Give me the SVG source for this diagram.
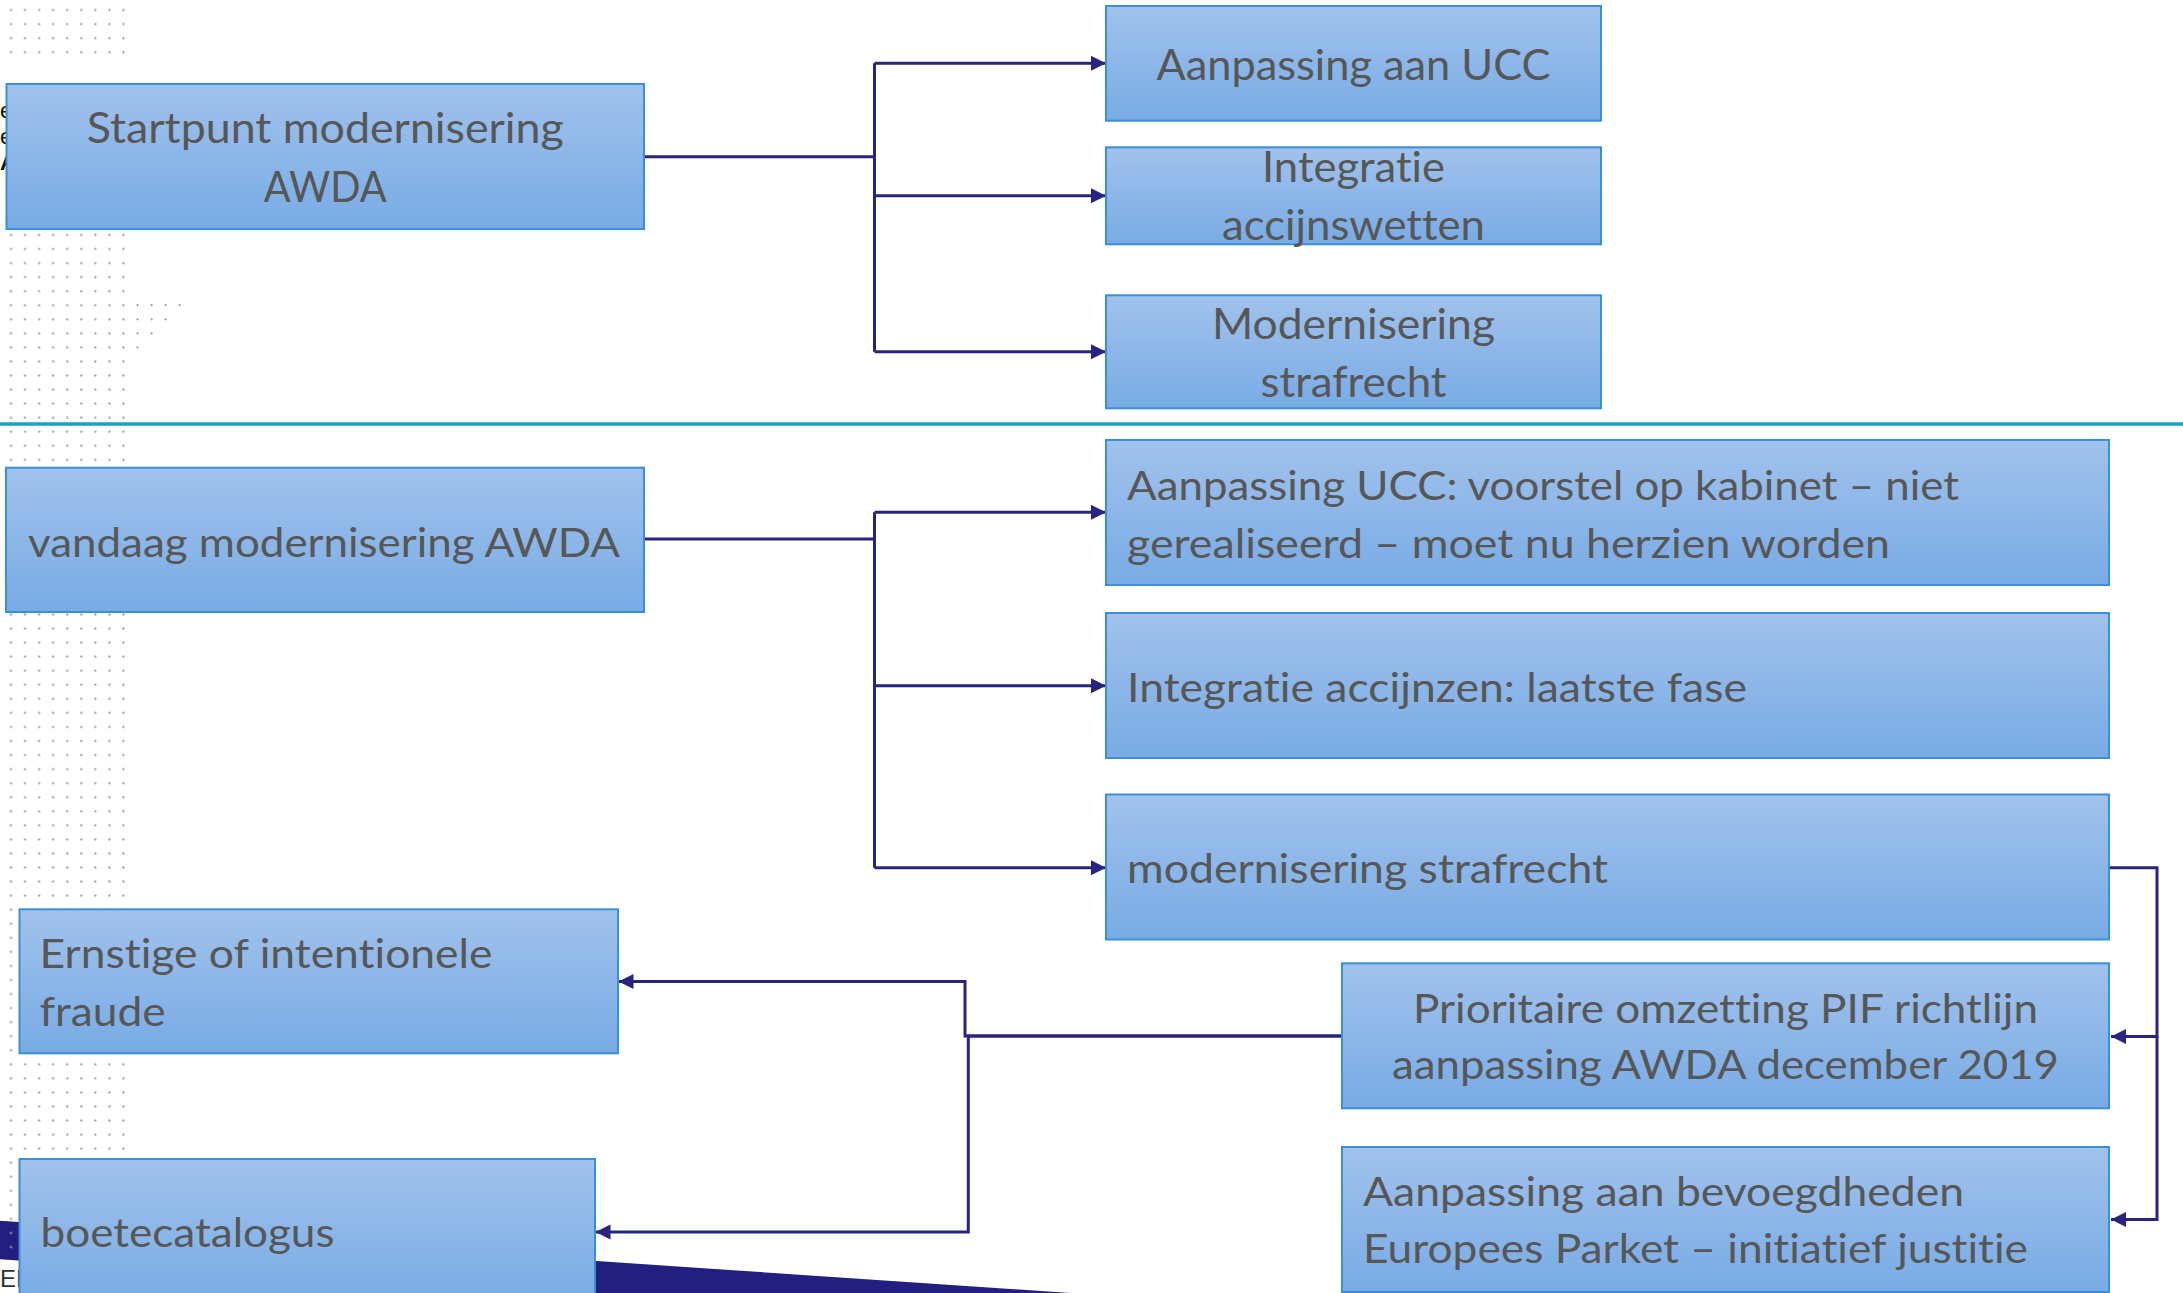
<svg xmlns="http://www.w3.org/2000/svg" width="2183" height="1293" viewBox="0 0 2183 1293">
  <style>
    .box { fill: url(#boxFill); stroke: #3a8fd9; stroke-width: 2; }
    .lbl { font-family: Lato, "Open Sans", "Liberation Sans", sans-serif; fill: #575757; font-variant-ligatures: none; font-feature-settings: "liga" 0; }
    .top { font-size: 42px; }
    .low { font-size: 41px; }
    .mid { text-anchor: middle; }
    .conn { fill: none; stroke: #28247f; stroke-width: 3; }
    .dot { fill: #9c9c9c; }
    .frag { font-family: "Liberation Sans", Arial, sans-serif; font-size: 22px; fill: #111; }
  </style>
  <defs>
    <linearGradient id="boxFill" x1="0" y1="0" x2="0" y2="1">
      <stop offset="0" stop-color="#a1c2ec"/>
      <stop offset="1" stop-color="#78abe5"/>
    </linearGradient>
    <pattern id="dots" patternUnits="userSpaceOnUse" x="4" y="3" width="14.05" height="14.057">
      <circle cx="7" cy="7" r="1.1" class="dot"/>
    </pattern>
    <marker id="arr" markerUnits="userSpaceOnUse" markerWidth="16" markerHeight="16" refX="15" refY="7.5" orient="auto">
      <path d="M0,0 L15,7.5 L0,15 Z" fill="#28247f"/>
    </marker>
  </defs>

  <rect width="2183" height="1293" fill="#ffffff"/>

  <!-- background decoration -->
  <g id="background">
    <polygon points="0,1220.7 1070,1293 498,1293 0,1259.3" fill="#231f80"/>
    <text x="0" y="1287" font-family="Liberation Sans, Arial, sans-serif" font-size="24" fill="#333">EL</text>
    <text class="frag" x="0" y="118">e</text>
    <text class="frag" x="0" y="144">er</text>
    <text class="frag" x="0" y="170" font-weight="bold">A</text>
    <rect x="4" y="3" width="126.45" height="56.23" fill="url(#dots)"/>
    <rect x="4" y="87.3" width="126.45" height="1166.7" fill="url(#dots)"/>
    <g class="dot">
      <circle cx="137.5" cy="305.2" r="1.1"/><circle cx="151.6" cy="305.2" r="1.1"/><circle cx="165.6" cy="305.2" r="1.1"/><circle cx="179.7" cy="305.2" r="1.1"/>
      <circle cx="137.5" cy="319.3" r="1.1"/><circle cx="151.6" cy="319.3" r="1.1"/><circle cx="165.6" cy="319.3" r="1.1"/>
      <circle cx="137.5" cy="333.3" r="1.1"/><circle cx="151.6" cy="333.3" r="1.1"/>
      <circle cx="137.5" cy="347.4" r="1.1"/>
    </g>
    <line x1="0" y1="424" x2="2183" y2="424" stroke="#17a3c8" stroke-width="3.5"/>
  </g>

  <!-- connectors -->
  <g id="connectors">
    <path class="conn" d="M644,156.7 H874.5"/>
    <path class="conn" d="M874.5,63.3 V351.7"/>
    <path class="conn" d="M874.5,63.3 H1106" marker-end="url(#arr)"/>
    <path class="conn" d="M874.5,195.7 H1106" marker-end="url(#arr)"/>
    <path class="conn" d="M874.5,351.7 H1106" marker-end="url(#arr)"/>

    <path class="conn" d="M644,539 H874.5"/>
    <path class="conn" d="M874.5,512.3 V867.7"/>
    <path class="conn" d="M874.5,512.3 H1106" marker-end="url(#arr)"/>
    <path class="conn" d="M874.5,685.8 H1106" marker-end="url(#arr)"/>
    <path class="conn" d="M874.5,867.7 H1106" marker-end="url(#arr)"/>

    <path class="conn" d="M2109,867.7 H2157 V1036.5 H2111" marker-end="url(#arr)"/>
    <path class="conn" d="M2157,1036.5 V1219.5 H2111" marker-end="url(#arr)"/>

    <path class="conn" d="M1342,1036 H965 V981.5 H618.5" marker-end="url(#arr)"/>
    <path class="conn" d="M1342,1036 H968.3 V1232 H595.5" marker-end="url(#arr)"/>
  </g>

  <!-- nodes -->
  <g id="startpunt">
    <rect class="box" x="6.5" y="84" width="637.5" height="145"/>
    <text class="lbl top mid" x="325.3" y="143.3" textLength="477" lengthAdjust="spacingAndGlyphs">Startpunt modernisering</text>
    <text class="lbl top mid" x="325.3" y="201.7" textLength="123" lengthAdjust="spacingAndGlyphs">AWDA</text>
  </g>
  <g id="aanpassing-ucc">
    <rect class="box" x="1106" y="6" width="495" height="114.7"/>
    <text class="lbl top mid" x="1353.5" y="80" textLength="394" lengthAdjust="spacingAndGlyphs">Aanpassing aan UCC</text>
  </g>
  <g id="integratie-accijnswetten">
    <rect class="box" x="1106" y="147.3" width="495" height="97"/>
    <text class="lbl top mid" x="1353.5" y="181.7" textLength="183" lengthAdjust="spacingAndGlyphs">Integratie</text>
    <text class="lbl top mid" x="1353.5" y="240" textLength="263" lengthAdjust="spacingAndGlyphs">accijnswetten</text>
  </g>
  <g id="modernisering-strafrecht-top">
    <rect class="box" x="1106" y="295.3" width="495" height="113"/>
    <text class="lbl top mid" x="1353.5" y="339.3" textLength="283" lengthAdjust="spacingAndGlyphs">Modernisering</text>
    <text class="lbl top mid" x="1353.5" y="396.7" textLength="186" lengthAdjust="spacingAndGlyphs">strafrecht</text>
  </g>
  <g id="vandaag">
    <rect class="box" x="6" y="467.7" width="638" height="144.3"/>
    <text class="lbl low" x="28" y="556.7" textLength="592" lengthAdjust="spacingAndGlyphs">vandaag modernisering AWDA</text>
  </g>
  <g id="aanpassing-ucc-voorstel">
    <rect class="box" x="1106" y="440" width="1003" height="145"/>
    <text class="lbl low" x="1127" y="500" textLength="832" lengthAdjust="spacingAndGlyphs">Aanpassing UCC: voorstel op kabinet – niet</text>
    <text class="lbl low" x="1127" y="557.7" textLength="763" lengthAdjust="spacingAndGlyphs">gerealiseerd – moet nu herzien worden</text>
  </g>
  <g id="integratie-accijnzen">
    <rect class="box" x="1106" y="613" width="1003" height="145"/>
    <text class="lbl low" x="1127" y="701.7" textLength="620" lengthAdjust="spacingAndGlyphs">Integratie accijnzen: laatste fase</text>
  </g>
  <g id="modernisering-strafrecht">
    <rect class="box" x="1106" y="794.5" width="1003" height="145"/>
    <text class="lbl low" x="1127" y="882.5" textLength="481" lengthAdjust="spacingAndGlyphs">modernisering strafrecht</text>
  </g>
  <g id="pif">
    <rect class="box" x="1342" y="963.3" width="767" height="145"/>
    <text class="lbl low mid" x="1725.5" y="1022.7" textLength="625" lengthAdjust="spacingAndGlyphs">Prioritaire omzetting PIF richtlijn</text>
    <text class="lbl low mid" x="1725.5" y="1079.3" textLength="667" lengthAdjust="spacingAndGlyphs">aanpassing AWDA december 2019</text>
  </g>
  <g id="europees-parket">
    <rect class="box" x="1342" y="1147" width="767" height="145"/>
    <text class="lbl low" x="1363" y="1205.7" textLength="601" lengthAdjust="spacingAndGlyphs">Aanpassing aan bevoegdheden</text>
    <text class="lbl low" x="1363" y="1263.3" textLength="665" lengthAdjust="spacingAndGlyphs">Europees Parket – initiatief justitie</text>
  </g>
  <g id="ernstige-fraude">
    <rect class="box" x="19.5" y="909.3" width="598.5" height="144"/>
    <text class="lbl low" x="39.5" y="968.3" textLength="453" lengthAdjust="spacingAndGlyphs">Ernstige of intentionele</text>
    <text class="lbl low" x="39.5" y="1025.7" textLength="126" lengthAdjust="spacingAndGlyphs">fraude</text>
  </g>
  <g id="boetecatalogus">
    <rect class="box" x="19.5" y="1159" width="575.5" height="145"/>
    <text class="lbl low" x="40.5" y="1246.7" textLength="294" lengthAdjust="spacingAndGlyphs">boetecatalogus</text>
  </g>
</svg>
